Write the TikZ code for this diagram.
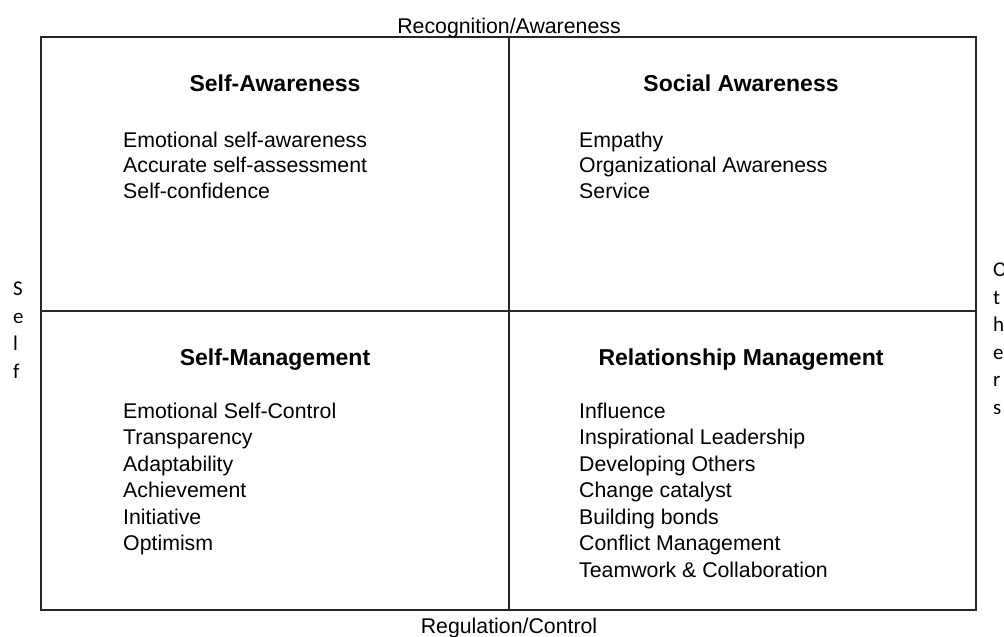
\documentclass[tikz,border=0pt]{standalone}
\usepackage{fontspec}
\setmainfont{Liberation Sans}
\newfontfamily\sidefont{Carlito}
\begin{document}
\begin{tikzpicture}[x=1pt,y=-1pt,
  item/.style={anchor=base west, inner sep=0pt, font=\fontsize{21.3}{25.5}\selectfont},
  qtitle/.style={anchor=base, inner sep=0pt, font=\fontsize{23}{27}\selectfont\bfseries},
  axislabel/.style={anchor=base, inner sep=0pt, font=\fontsize{21.3}{25.5}\selectfont},
  sidelabel/.style={anchor=north west, inner sep=0pt, align=left, font=\sidefont\fontsize{21}{27.5}\selectfont},
  frame/.style={draw=black!85, line width=1.3pt}]
\useasboundingbox (0,0) rectangle (1004,637);
\fill[white] (0,0) rectangle (1004,637);
% grid
\coordinate (nw) at (41,37);
\coordinate (se) at (976,610);
\coordinate (mt) at (509,37);
\coordinate (mb) at (509,610);
\coordinate (ml) at (41,311);
\coordinate (mr) at (976,311);
\draw[frame] (nw) rectangle (se);
\draw[frame] (mt) -- (mb);
\draw[frame] (ml) -- (mr);
% axis labels
\node[axislabel] (top) at (509,33) {Recognition/Awareness};
\node[axislabel] (bottom) at (509,633) {Regulation/Control};
\node[sidelabel] (self) at (13,282) {S\\e\\l\\f};
\node[sidelabel] (others) at (993,263) {O\\t\\h\\e\\r\\s};
% titles
\node[qtitle] (t1) at (275,91) {Self-Awareness};
\node[qtitle] (t2) at (741,91) {Social Awareness};
\node[qtitle] (t3) at (275,365) {Self-Management};
\node[qtitle] (t4) at (741,365) {Relationship Management};
% top-left
\node[item] (a1) at (123,147) {Emotional self-awareness};
\node[item] (a2) at (123,172.5) {Accurate self-assessment};
\node[item] (a3) at (123,198) {Self-confidence};
% top-right
\node[item] (b1) at (579,147) {Empathy};
\node[item] (b2) at (579,172.5) {Organizational Awareness};
\node[item] (b3) at (579,198) {Service};
% bottom-left
\node[item] (c1) at (123,418) {Emotional Self-Control};
\node[item] (c2) at (123,444.5) {Transparency};
\node[item] (c3) at (123,471) {Adaptability};
\node[item] (c4) at (123,497.5) {Achievement};
\node[item] (c5) at (123,524) {Initiative};
\node[item] (c6) at (123,550.5) {Optimism};
% bottom-right
\node[item] (d1) at (579,418) {Influence};
\node[item] (d2) at (579,444.5) {Inspirational Leadership};
\node[item] (d3) at (579,471) {Developing Others};
\node[item] (d4) at (579,497.5) {Change catalyst};
\node[item] (d5) at (579,524) {Building bonds};
\node[item] (d6) at (579,550.5) {Conflict Management};
\node[item] (d7) at (579,577) {Teamwork \& Collaboration};
\end{tikzpicture}
\end{document}
